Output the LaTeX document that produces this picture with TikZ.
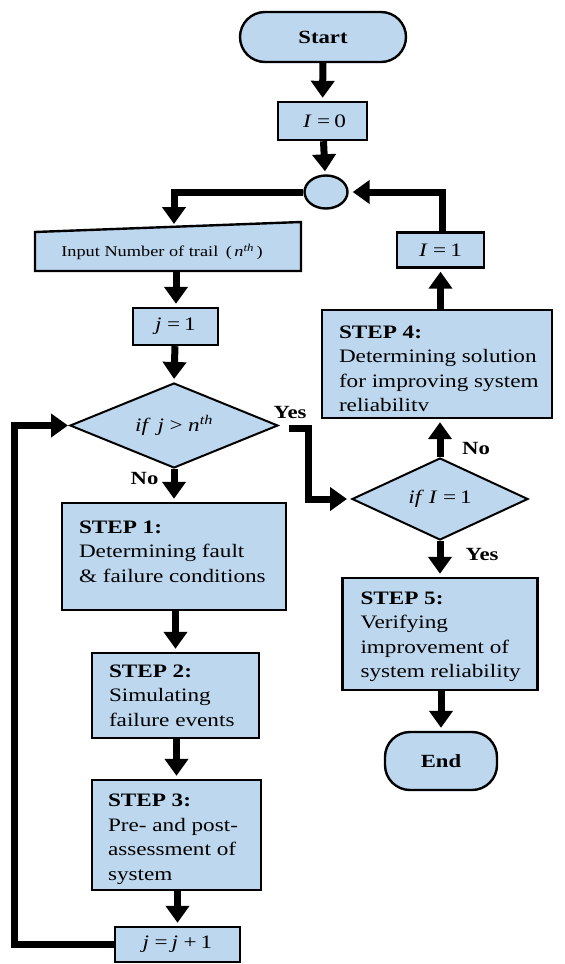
\documentclass[tikz,border=0pt]{standalone}
\usepackage{fontspec}
\setmainfont{Liberation Serif}[FakeStretch=1.22]
\usetikzlibrary{arrows.meta,shapes.geometric}
\definecolor{boxfill}{RGB}{189,215,238}

% spacing around relations in the small formulas
\newcommand{\relgapL}{\hspace{5.5pt}}
\newcommand{\relgapR}{\hspace{4pt}}

\tikzset{
  box/.style={draw=black, fill=boxfill, line width=2.4pt, inner sep=0pt},
  procbox/.style={box, rectangle},
  termbox/.style={box, rectangle, rounded corners=25pt, font=\fontsize{18.6}{22}\selectfont\bfseries},
  decbox/.style={box, diamond, aspect=2.4, line width=2pt, font=\fontsize{19}{22}\selectfont},
  valbox/.style={procbox, font=\fontsize{19}{22}\selectfont},
  steptext/.style={anchor=west, align=left, inner sep=0pt, font=\fontsize{19}{24.5}\selectfont},
  branch/.style={inner sep=0pt, font=\fontsize{18.6}{22}\selectfont\bfseries},
  arr/.style={line width=7pt, -{Triangle[width=23pt,length=17pt]}, shorten >=3pt}
}

\begin{document}
\begin{tikzpicture}[x=1pt,y=-1pt]
\useasboundingbox (0,0) rectangle (565,964);

% ---- left column ----
\node[termbox, minimum width=166pt, minimum height=50pt] (start) at (323,37) {Start};
\node[valbox, minimum width=89pt, minimum height=38pt] (i0) at (322.5,121)
  {\hspace{4pt}\textit{I}\relgapL=\relgapR 0};
\node[box, ellipse, minimum width=43pt, minimum height=33pt] (circ) at (326,192) {};

% manual input (slanted top edge)
\filldraw[fill=boxfill, draw=black, line width=2.4pt]
  (35,232) -- (301,222) -- (301,271) -- (35,271) -- cycle;
\node[inner sep=0pt, font=\fontsize{15}{17}\selectfont] (inp) at (162,252)
  {Input Number of trail\enspace(\,\textit{n}\textsuperscript{\textit{th}}\,)};
\coordinate (inpTop) at (174,227);
\coordinate (inpBot) at (176,271);

\node[valbox, minimum width=85pt, minimum height=37pt] (j1) at (175.5,326.5)
  {\textit{j}\relgapL=\relgapR 1};
\node[decbox, minimum width=208pt, minimum height=85pt] (d1) at (174,425.5)
  {\textit{if}\hspace{7pt}\textit{j}\relgapL>\relgapL\textit{n}\textsuperscript{\textit{th}}};

\node[procbox, minimum width=224pt, minimum height=107pt] (s1) at (174,556.5) {};
\node[steptext, yshift=5pt] (s1t) at ([xshift=18pt]s1.west)
  {\textbf{STEP 1:}\\Determining fault\\\& failure conditions};

\node[procbox, minimum width=167pt, minimum height=85pt] (s2) at (175.5,695.5) {};
\node[steptext] (s2t) at ([xshift=18pt]s2.west)
  {\textbf{STEP 2:}\\Simulating\\failure events};

\node[procbox, minimum width=169pt, minimum height=110pt] (s3) at (176.5,835) {};
\node[steptext, yshift=-4pt] (s3t) at ([xshift=17pt]s3.west)
  {\textbf{STEP 3:}\\Pre- and post-\\assessment of\\system};

\node[valbox, minimum width=125pt, minimum height=35pt] (jj) at (177.5,944.5)
  {\textit{j}\relgapL=\relgapR\textit{j}\relgapL+\relgapR 1};

% ---- right column ----
\node[decbox, minimum width=176pt, minimum height=82pt] (d2) at (440,499)
  {\textit{if}\hspace{5pt}\textit{I}\relgapL=\relgapR 1};

\node[procbox, minimum width=230pt, minimum height=108pt] (s4) at (437,364) {};
\node[steptext, yshift=-5pt] (s4t) at ([xshift=18pt]s4.west)
  {\textbf{STEP 4:}\\Determining solution\\for improving system\\reliabilitv};

\node[valbox, minimum width=87pt, minimum height=35pt] (i1) at (440.5,250)
  {\textit{I}\relgapL=\relgapR 1};

\node[procbox, minimum width=195pt, minimum height=112pt] (s5) at (440,634) {};
\node[steptext, yshift=-3pt] (s5t) at ([xshift=19pt]s5.west)
  {\textbf{STEP 5:}\\Verifying\\improvement of\\system reliability};

\node[termbox, minimum width=112pt, minimum height=58pt] (end) at (441,761) {End};

% ---- branch labels ----
\node[branch] (yes1) at (290,412) {Yes};
\node[branch] (no1) at (144.5,478) {No};
\node[branch] (no2) at (476,448) {No};
\node[branch] (yes2) at (482,554) {Yes};

% ---- connectors ----
\draw[arr] (start) -- (i0);
\draw[arr] (i0) -- (circ);
\draw[arr] (circ.west) -| (inpTop);
\draw[arr] (inpBot) -- (inpBot |- j1.north);
\draw[arr] (j1) -- (d1.north);
\draw[arr] (d1.south) -- (d1.south |- s1.north);
\draw[arr] (s1.south -| s2.north) -- (s2.north);
\draw[arr] (s2.south -| s3.north) -- (s3.north);
\draw[arr] (s3.south -| jj.north) -- (jj.north);

% loop back from j = j + 1 to the decision
\draw[arr, shorten >=1pt] (jj.west) -- ++(-99,0) |- (d1.west);

% yes branch to the second decision
\coordinate (yesStart) at (289,428);
\draw[arr, shorten >=4pt] (yesStart) -- ++(19,0) |- (d2.west);

\draw[arr] (d2.north) -- (s4.south -| d2.north);
\draw[arr] (s4.north -| i1.south) -- (i1.south);
\draw[arr, shorten >=4pt] ([xshift=1.5pt]i1.north) |- (circ.east);
\draw[arr] (d2.south) -- (s5.north -| d2.south);
\draw[arr] (s5.south -| end.north) -- (end.north);
\end{tikzpicture}
\end{document}
